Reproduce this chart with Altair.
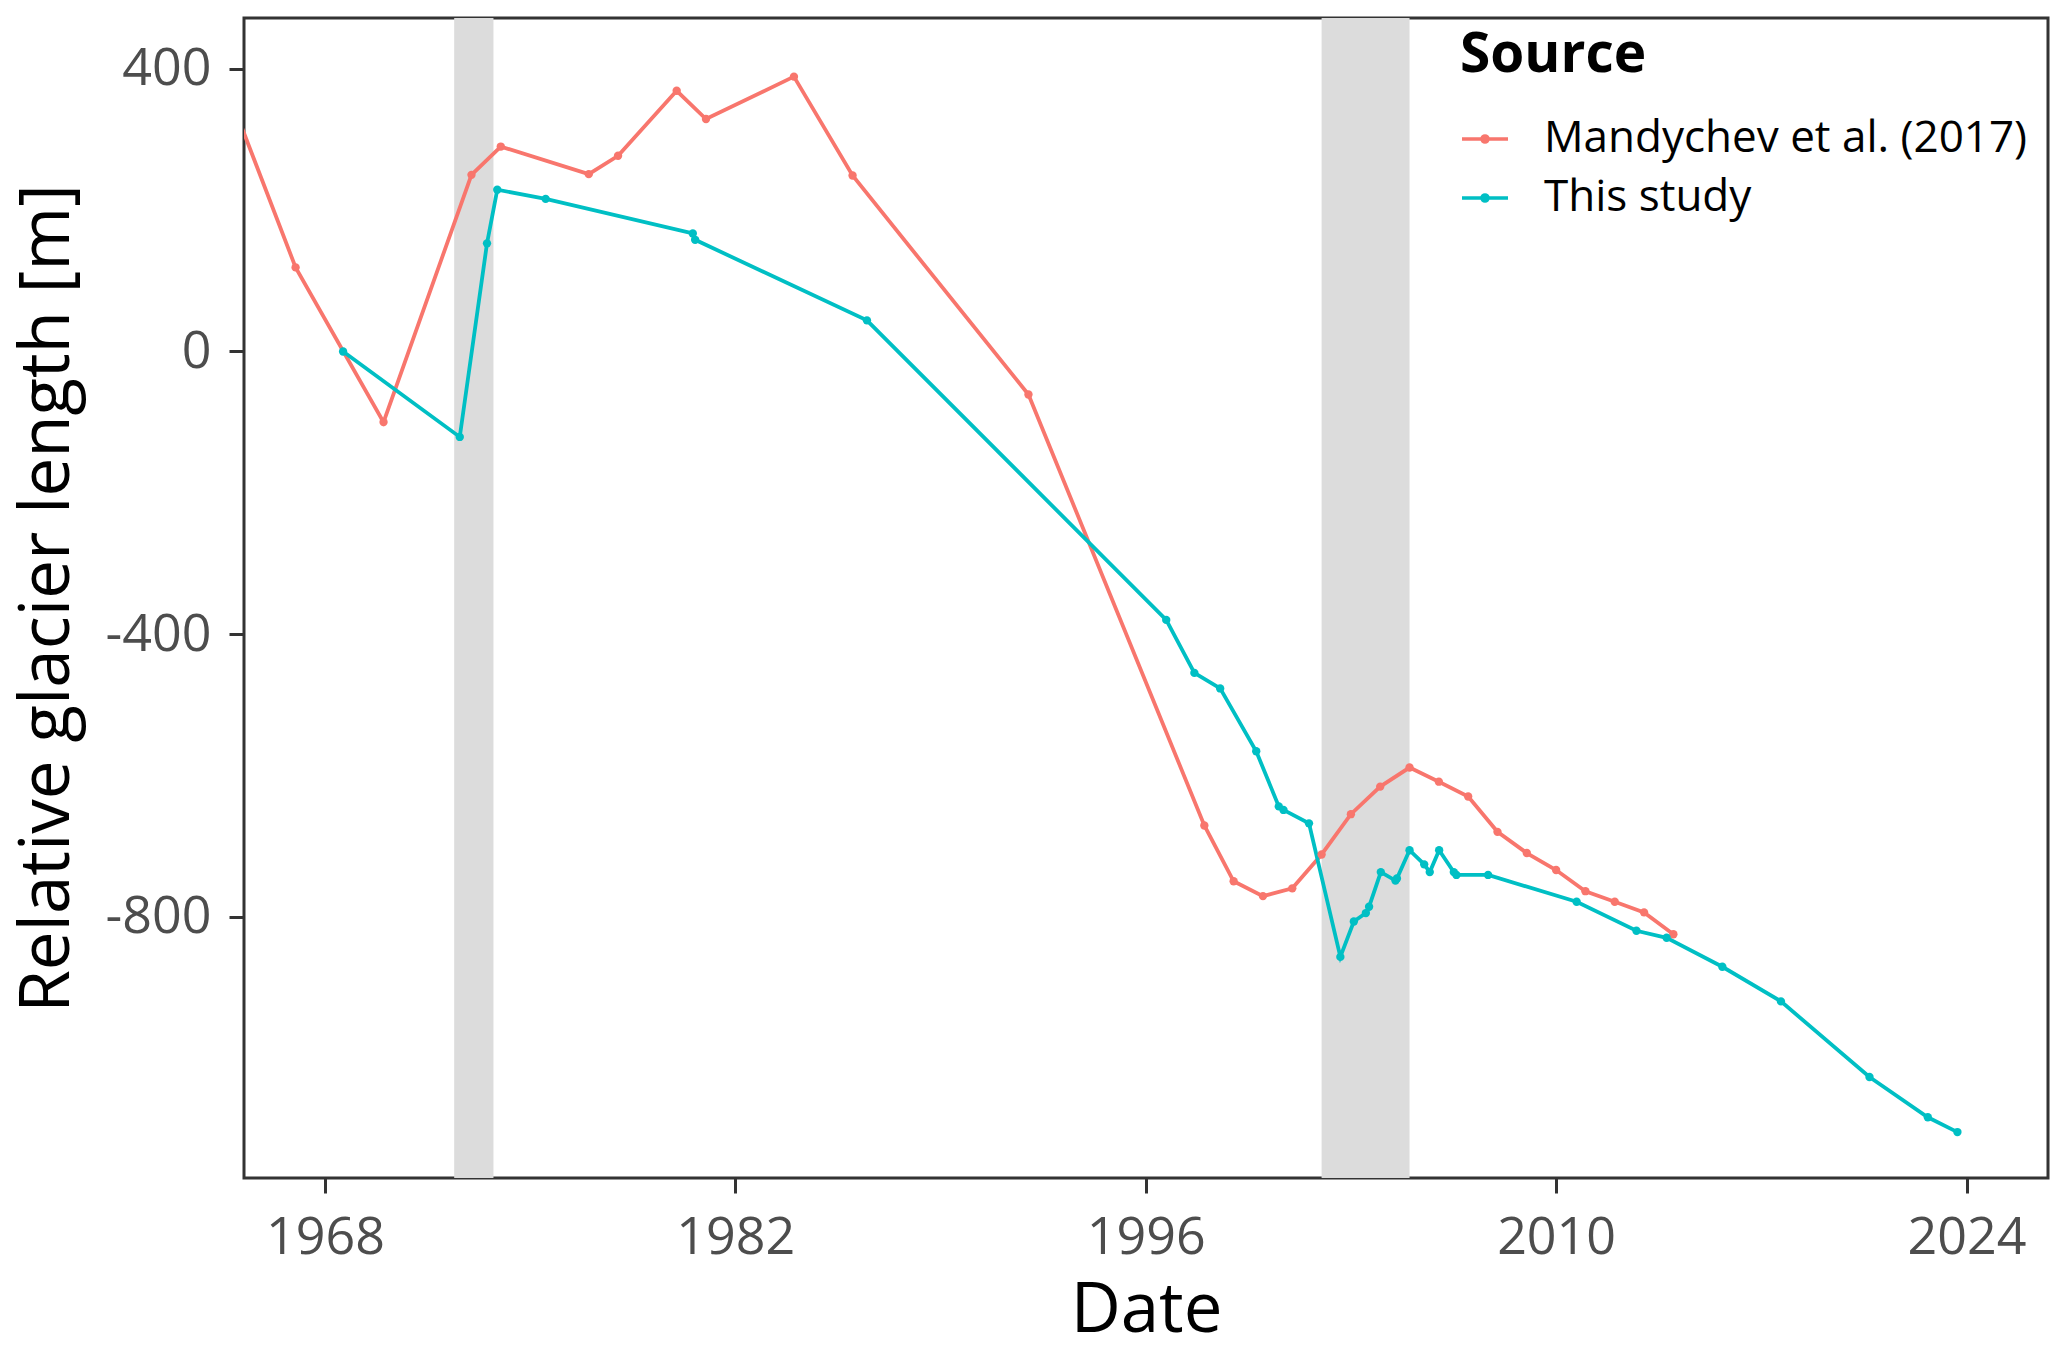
import altair as alt
import pandas as pd

# ---- data ----
mandy_year = [1965, 1967, 1970, 1973, 1974, 1977, 1978, 1980, 1981, 1984, 1986, 1992,
              1998, 1999, 2000, 2001, 2002, 2003, 2004, 2005, 2006, 2007, 2008, 2009,
              2010, 2011, 2012, 2013, 2014]
mandy_len = [335, 119, -100, 250, 290, 251, 277, 369, 329, 389, 249, -61,
             -671, -750, -771, -760, -712, -655, -616, -589, -609, -630, -680, -710,
             -734, -764, -779, -794, -825]

study_year = [1968.62, 1972.60, 1973.53, 1973.88, 1975.53, 1980.55, 1980.63, 1986.49,
              1996.70, 1997.66, 1998.54, 1999.77, 2000.54, 2000.70, 2001.57, 2002.64,
              2003.10, 2003.51, 2003.62, 2004.02, 2004.52, 2004.57, 2005.00, 2005.50,
              2005.69, 2006.01, 2006.51, 2006.60, 2007.68, 2010.70, 2012.74, 2013.77,
              2015.67, 2017.67, 2020.69, 2022.68, 2023.69]
study_len = [0, -121, 153, 229, 216, 167, 158, 44,
             -380, -455, -477, -566, -644, -649, -668, -857,
             -807, -795, -786, -737, -749, -746, -706, -726,
             -737, -706, -737, -741, -741, -779, -820, -830,
             -871, -920, -1027, -1084, -1105]

shade_start = [1972.41, 2002.0]
shade_end = [1973.75, 2005.0]

sources = ["Mandychev et al. (2017)", "This study"]
colors = ["#F8766D", "#00BFC4"]
x_ticks = [1968, 1982, 1996, 2010, 2024]
y_ticks = [-800, -400, 0, 400]
x_domain = [1965.24, 2026.78]
y_domain = [-1170, 472]

# ---- tables ----
df = pd.concat([
    pd.DataFrame({"year": mandy_year, "length": mandy_len, "Source": sources[0]}),
    pd.DataFrame({"year": study_year, "length": study_len, "Source": sources[1]}),
], ignore_index=True)
shade_df = pd.DataFrame({"year": shade_start, "year_end": shade_end})

W, H = 1804, 1160
FONT = "Open Sans"

xs = alt.Scale(domain=x_domain, nice=False, zero=False)
ys = alt.Scale(domain=y_domain, nice=False, zero=False)
cs = alt.Scale(domain=sources, range=colors)

xaxis = alt.Axis(values=x_ticks, labelExpr="'' + datum.value", grid=False, domain=False,
                 tickSize=15, tickWidth=3, tickColor="#333333",
                 labelFontSize=52, labelColor="#4D4D4D", labelFont=FONT, labelPadding=19,
                 titleFontSize=69, titleFont=FONT, titleColor="black", titleFontWeight="normal",
                 titleBaseline="alphabetic", titleY=153)
yaxis = alt.Axis(values=y_ticks, labelExpr="'' + datum.value", grid=False, domain=False,
                 tickSize=15, tickWidth=3, tickColor="#333333",
                 labelFontSize=52, labelColor="#4D4D4D", labelFont=FONT, labelPadding=18,
                 titleFontSize=69, titleFont=FONT, titleColor="black", titleFontWeight="normal",
                 titleBaseline="alphabetic", titleX=-176)

X = alt.X("year:Q", scale=xs, axis=xaxis, title="Date")
Y = alt.Y("length:Q", scale=ys, axis=yaxis, title="Relative glacier length [m]")

sym_path = "M-1,0H1M-0.13,0A0.13,0.13,0,1,1,0.13,0A0.13,0.13,0,1,1,-0.13,0Z"
leg = alt.Legend(title="Source", orient="none", legendX=1216, legendY=11, padding=0,
                 titleFontSize=55, titleFont=FONT, titleFontWeight="bold", titleColor="black",
                 titleLimit=0, titlePadding=30, labelFontSize=44, labelFont=FONT,
                 labelColor="black", labelLimit=0, labelOffset=34, rowPadding=12,
                 symbolType=sym_path, symbolSize=2116, symbolStrokeWidth=3.6)
C = alt.Color("Source:N", scale=cs, legend=leg)

shade = alt.Chart(shade_df).mark_rect(color="#DCDCDC").encode(
    x=X, x2="year_end:Q", y=alt.value(0), y2=alt.value(H)
)

lines = alt.Chart(df).mark_line(strokeWidth=3.8, clip=True).encode(
    x=X, y=Y, color=C
)

points = alt.Chart(df).mark_circle(size=70, opacity=1, clip=True).encode(
    x=X, y=Y, color=C
)

chart = alt.layer(shade, lines, points).properties(
    width=W, height=H,
    autosize=alt.AutoSizeParams(type="none"),
    padding={"left": 236, "top": 10, "right": 11, "bottom": 163},
    background="white",
).configure_view(stroke="#333333", strokeWidth=3)

chart.save("out.html", embed_options={"renderer": "svg", "actions": False})
